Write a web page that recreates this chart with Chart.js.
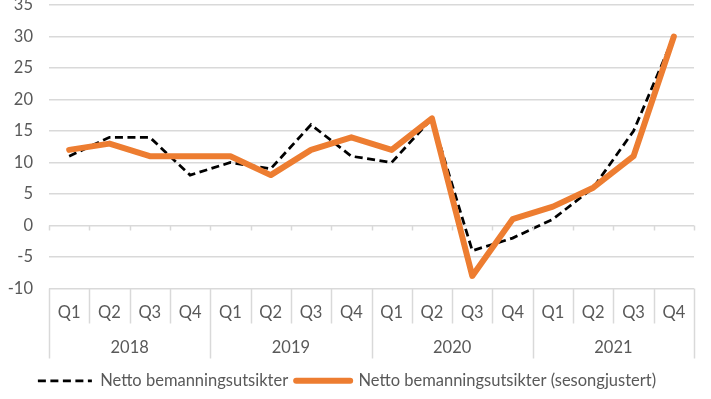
<!DOCTYPE html>
<html>
<head>
<meta charset="utf-8">
<script src="https://cdn.jsdelivr.net/npm/chart.js@4"></script>
<style>
  html, body { margin: 0; padding: 0; background: #fff; }
  #wrap { width: 711px; height: 399px; }
</style>
</head>
<body>
<div id="wrap"><canvas id="grafico" width="711" height="399"></canvas></div>
<script>
// Datos del gráfico
var aar = ['2018', '2019', '2020', '2021'];
var kvartal = ['Q1', 'Q2', 'Q3', 'Q4'];
var netto = [11, 14, 14, 8, 10, 9, 16, 11, 10, 17, -4, -2, 1, 6, 15, 30];
var nettoSesong = [12, 13, 11, 11, 11, 8, 12, 14, 12, 17, -8, 1, 3, 6, 11, 30];
var yTicks = [-10, -5, 0, 5, 10, 15, 20, 25, 30, 35];

var gridColor = '#d9d9d9';
var textoColor = '#595959';
var fuente = 'Lato, "Liberation Sans", Arial, sans-serif';
var tam = 16.5;

// etiquetas del eje x (un trimestre por punto)
var etiquetas = [];
aar.forEach(function(a) {
  kvartal.forEach(function(q) { etiquetas.push(q); });
});

// plugin para los separadores y los años debajo del eje
var ejeAnos = {
  id: 'ejeAnos',
  afterDraw: function(chart) {
    var ctx = chart.ctx;
    var x = chart.scales.x;
    var y = chart.scales.y;
    var area = chart.chartArea;
    var n = etiquetas.length;
    var paso = (area.right - area.left) / n;
    var y0 = y.getPixelForValue(0);

    ctx.save();
    ctx.strokeStyle = gridColor;
    ctx.lineWidth = 1.5;
    for (var i = 0; i <= n; i++) {
      var px = Math.round(area.left + i * paso) + 0.5;
      var largo = (i % kvartal.length === 0) ? 70 : 35;
      ctx.beginPath();
      ctx.moveTo(px, area.bottom);
      ctx.lineTo(px, area.bottom + largo);
      ctx.stroke();
      // marcas pequeñas en la linea del cero
      ctx.beginPath();
      ctx.moveTo(px, y0);
      ctx.lineTo(px, y0 + 5);
      ctx.stroke();
    }

    ctx.fillStyle = textoColor;
    ctx.font = tam + 'px ' + fuente;
    ctx.textAlign = 'center';
    ctx.textBaseline = 'middle';
    for (var k = 0; k < aar.length; k++) {
      var ini = x.getPixelForValue(k * kvartal.length);
      var fin = x.getPixelForValue((k + 1) * kvartal.length - 1);
      ctx.fillText(aar[k], (ini + fin) / 2, area.bottom + 59);
    }
    ctx.restore();
  }
};

var ctx = document.getElementById('grafico').getContext('2d');

new Chart(ctx, {
  type: 'line',
  data: {
    labels: etiquetas,
    datasets: [{
      label: 'Netto bemanningsutsikter',
      data: netto,
      borderColor: '#000000',
      backgroundColor: '#000000',
      borderWidth: 2.75,
      borderDash: [8, 4.5],
      pointRadius: 0,
      tension: 0,
      order: 2
    }, {
      label: 'Netto bemanningsutsikter (sesongjustert)',
      data: nettoSesong,
      borderColor: '#ED7D31',
      backgroundColor: '#ED7D31',
      borderWidth: 6,
      borderJoinStyle: 'round',
      borderCapStyle: 'round',
      pointRadius: 0,
      tension: 0,
      order: 1
    }]
  },
  options: {
    responsive: false,
    animation: false,
    layout: {
      padding: { top: 5, right: 17, left: 0, bottom: 0 }
    },
    plugins: {
      tooltip: { enabled: false },
      legend: {
        position: 'bottom',
        labels: {
          usePointStyle: true,
          pointStyle: 'line',
          pointStyleWidth: 54,
          color: textoColor,
          font: { family: fuente, size: tam },
          padding: 8,
          boxHeight: 16,
          // leyenda en el orden de los datos, con el estilo de la linea
          generateLabels: function(chart) {
            return chart.data.datasets.map(function(ds, i) {
              return {
                text: ds.label,
                datasetIndex: i,
                fillStyle: ds.borderColor,
                strokeStyle: ds.borderColor,
                lineWidth: ds.borderWidth,
                lineDash: ds.borderDash || [],
                lineCap: ds.borderDash ? 'butt' : 'round',
                pointStyle: 'line',
                fontColor: textoColor,
                hidden: false
              };
            });
          }
        }
      }
    },
    scales: {
      x: {
        offset: true,
        grid: { display: false },
        border: { display: false },
        ticks: {
          color: textoColor,
          font: { family: fuente, size: tam },
          padding: 6,
          maxRotation: 0,
          autoSkip: false
        },
        afterFit: function(scale) { scale.height = 76; }
      },
      y: {
        min: -10,
        max: 35,
        afterBuildTicks: function(scale) {
          scale.ticks = yTicks.map(function(v) { return { value: v }; });
        },
        grid: { color: gridColor, lineWidth: 1.5, drawTicks: false },
        border: { display: false },
        ticks: {
          color: textoColor,
          font: { family: fuente, size: tam },
          padding: 16
        },
        afterFit: function(scale) {
          scale.width = 49;
          scale.paddingTop = 0;
          scale.paddingBottom = 0;
        }
      }
    }
  },
  plugins: [ejeAnos]
});
</script>
</body>
</html>
